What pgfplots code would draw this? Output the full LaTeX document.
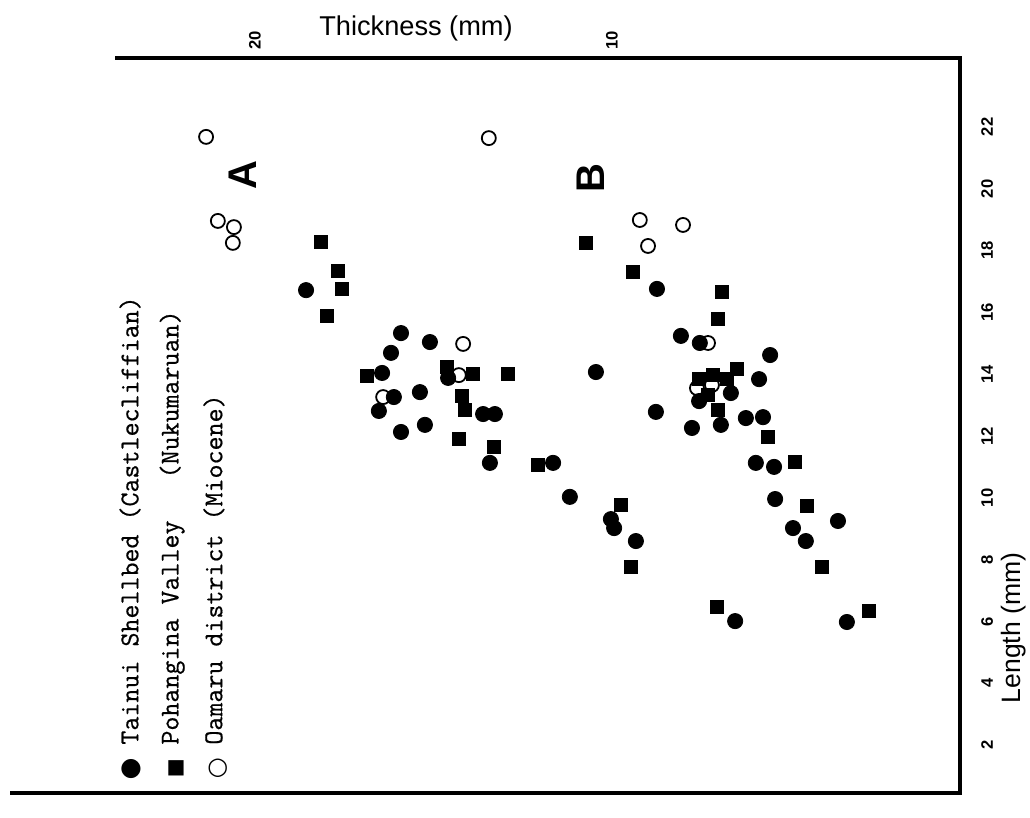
\documentclass[border=0pt]{standalone}
\usepackage{fontspec}
\usepackage{pgfplots}
\pgfplotsset{compat=1.18}
\newfontfamily\lsans{Liberation Sans}
\newfontfamily\dejavu{DejaVu Sans}
\newfontfamily\legfont[FakeBold=0.6]{Latin Modern Mono}
\begin{document}
\begin{tikzpicture}
\begin{axis}[
  scale only axis, width=475pt, height=367.5pt,
  x dir=reverse,
  xmin=0.252, xmax=26.863, ymin=0.447, ymax=24.233,
  axis line style={draw=none},
  major tick length=0pt,
  xtick={10,20}, ytick={2,4,...,22},
  xticklabel pos=right, yticklabel pos=right,
  /pgf/number format/assume math mode=true,
  xticklabel style={font=\lsans\bfseries\fontsize{8.3}{9}\selectfont, yshift=4pt, rotate=90, anchor=west, inner sep=0pt},
  yticklabel style={font=\lsans\bfseries\fontsize{8.3}{9}\selectfont, xshift=10.5pt, rotate=90, anchor=north, inner sep=0pt},
  clip=false,
]
% Oamaru district (Miocene)
\addplot[only marks, mark=*, mark size=3.5pt, mark options={fill=white, draw=black, line width=0.9pt}] coordinates {
(21.37,21.68) (21.04,18.96) (20.59,18.76) (20.62,18.25) (13.45,21.64) (14.17,14.98) (14.29,13.97) (16.41,13.26)
(9.22,18.99) (8.01,18.83) (8.99,18.15) (7.31,15.01) (7.62,13.55) (7.20,13.65)
};
% Pohangina Valley (Nukumaruan)
\addplot[only marks, mark=square*, mark size=3.2pt, black] coordinates {
(18.15,18.28) (17.68,17.34) (17.56,16.76) (17.98,15.88) (14.62,14.23) (16.86,13.94) (13.89,14.01) (12.91,14.01)
(14.20,13.29) (14.12,12.84) (14.29,11.90) (13.31,11.64) (12.07,11.06) (9.75,9.77) (9.47,7.76)
(10.73,18.25) (9.41,17.31) (6.92,16.66) (7.03,15.79) (6.50,14.17) (7.56,13.84) (7.17,13.97) (6.78,13.84)
(7.31,13.33) (7.03,12.84) (5.63,11.97) (4.87,11.16) (4.54,9.73) (4.12,7.76) (7.06,6.47) (2.80,6.34)
};
% Tainui Shellbed (Castlecliffian)
\addplot[only marks, mark=*, mark size=3.8pt, black] coordinates {
(18.57,16.72) (15.91,15.33) (15.10,15.04) (16.19,14.69) (16.44,14.04) (14.59,13.88) (16.11,13.26) (15.38,13.42)
(16.53,12.81) (13.61,12.71) (13.28,12.71) (15.91,12.13) (15.24,12.36) (13.42,11.13) (11.65,11.13) (11.18,10.03)
(10.03,9.31) (9.94,9.02) (9.33,8.60)
(10.45,14.07) (8.74,16.76) (8.07,15.24) (7.54,15.01) (5.57,14.62) (5.88,13.84) (6.67,13.39) (7.56,13.13)
(8.77,12.78) (6.25,12.58) (5.77,12.61) (7.76,12.26) (6.95,12.36) (5.97,11.13) (5.46,11.00) (5.43,9.96)
(3.67,9.25) (4.93,9.02) (4.57,8.60) (6.55,6.01) (3.42,5.98)
};
% frame
\draw[line width=1.8pt, line join=miter] (axis cs:23.92,24.233) -- (axis cs:0.252,24.233) -- (axis cs:0.252,0.447) -- (axis cs:26.863,0.447);
% labels
\node[rotate=90, font=\lsans\fontsize{13.3}{15}\selectfont] at (axis cs:-1.25,5.79) {Length (mm)};
\node[font=\lsans\fontsize{13.6}{15}\selectfont] at (axis cs:15.49,25.20) {Thickness (mm)};
\node[rotate=90, font=\lsans\bfseries\fontsize{20}{22}\selectfont] at (axis cs:20.34,20.45) {A};
\node[rotate=90, font=\lsans\bfseries\fontsize{20}{22}\selectfont] at (axis cs:10.59,20.35) {B};
% legend
\node[rotate=90, anchor=west, inner sep=0pt, font=\legfont\fontsize{13.6}{15}\selectfont] at (axis cs:23.50,2.00) {Tainui Shellbed (Castlecliffian)};
\node[rotate=90, anchor=west, inner sep=0pt, font=\legfont\fontsize{13.6}{15}\selectfont] at (axis cs:22.32,2.00) {Pohangina Valley\ \ \ (Nukumaruan)};
\node[rotate=90, anchor=west, inner sep=0pt, font=\legfont\fontsize{13.6}{15}\selectfont] at (axis cs:21.15,2.00) {Oamaru district (Miocene)};
\node[inner sep=0pt, font=\dejavu\fontsize{12.5}{14}\selectfont] at (axis cs:23.47,1.22) {●};
\node[inner sep=0pt, font=\dejavu\fontsize{10}{12}\selectfont] at (axis cs:22.21,1.26) {■};
\node[inner sep=0pt, font=\dejavu\fontsize{12}{14}\selectfont] at (axis cs:21.04,1.26) {○};
% bounding box corners
\coordinate (bbA) at (axis cs:27.143,26.110);
\coordinate (bbB) at (axis cs:-1.709,-0.362);
\end{axis}
\pgfresetboundingbox
\path (bbA) rectangle (bbB);
\end{tikzpicture}
\end{document}
